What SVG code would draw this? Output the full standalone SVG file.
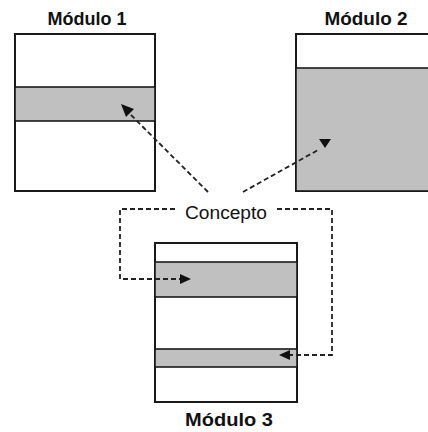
<svg xmlns="http://www.w3.org/2000/svg" width="428" height="432" viewBox="0 0 428 432">
<style>
.box{fill:#fff;stroke:#1a1a1a;stroke-width:2}
.band{fill:#c0c0c0;stroke:#1a1a1a;stroke-width:1.6}
.lbl{font-family:"Liberation Sans",Arial,sans-serif;font-weight:bold;font-size:17.5px;fill:#111;text-anchor:middle}
.cpt{font-family:"Liberation Sans",Arial,sans-serif;font-size:18px;fill:#111;text-anchor:middle}
.dash{fill:none;stroke:#222;stroke-width:1.8;stroke-dasharray:5 3}
.head{fill:#111}
</style>
<rect width="428" height="432" fill="#fff"/>
<g id="modulo1">
<rect class="box" x="15" y="34" width="140" height="157"/>
<rect class="band" x="15" y="87" width="140" height="34"/>
<text class="lbl" x="87" y="25" textLength="79" lengthAdjust="spacingAndGlyphs">Módulo 1</text>
</g>
<g id="modulo2">
<rect class="box" x="296" y="34" width="140" height="157"/>
<rect class="band" x="296" y="68" width="140" height="123"/>
<text class="lbl" x="366" y="25" textLength="83" lengthAdjust="spacingAndGlyphs">Módulo 2</text>
</g>
<g id="modulo3">
<rect class="box" x="155" y="243" width="142" height="159"/>
<rect class="band" x="155" y="262" width="142" height="35"/>
<rect class="band" x="155" y="349" width="142" height="18"/>
<text class="lbl" x="229" y="426" textLength="88" lengthAdjust="spacingAndGlyphs">Módulo 3</text>
</g>
<g id="concepto">
<text class="cpt" x="226" y="219" textLength="82" lengthAdjust="spacingAndGlyphs">Concepto</text>
</g>
<g id="connectors">
<path class="dash" d="M208 192 L128 112"/>
<polygon class="head" points="121,104 134,109 126,117"/>
<path class="dash" d="M243 192 L318 150"/>
<polygon class="head" points="319,139 331,139 325,148"/>
<path class="dash" d="M175 209 H120 V279 H182"/>
<polygon class="head" points="191,279 180,274 180,284"/>
<path class="dash" d="M277 209 H332 V355 H290"/>
<polygon class="head" points="279,355 290,350 290,360"/>
</g>
</svg>
